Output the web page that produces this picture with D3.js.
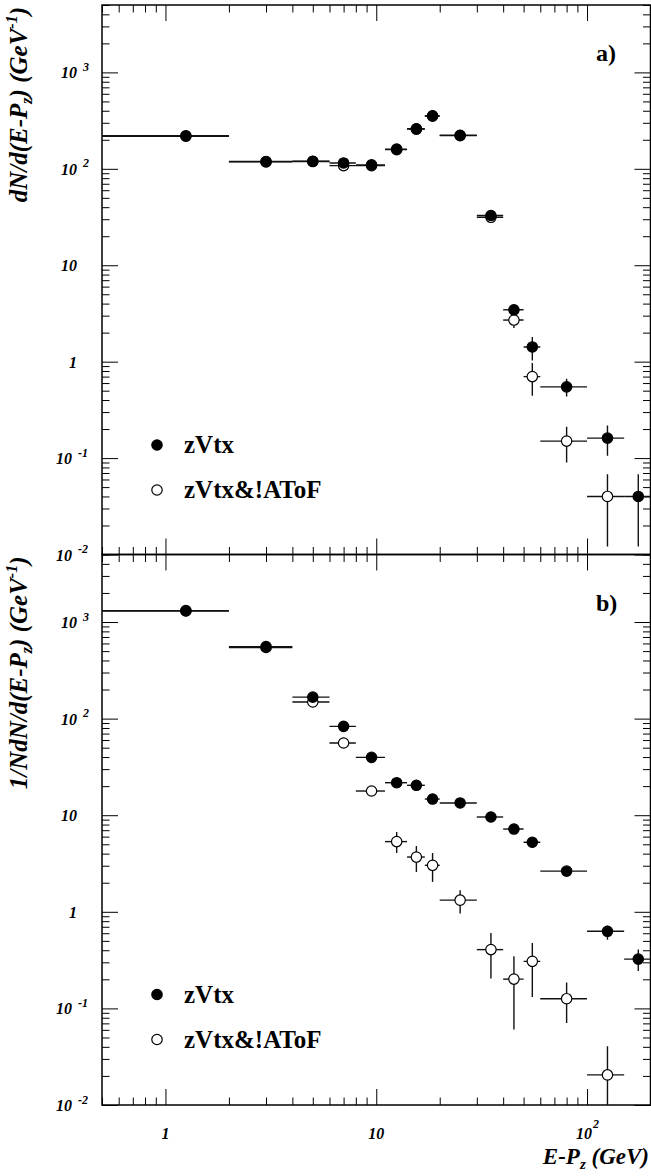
<!DOCTYPE html>
<html><head><meta charset="utf-8">
<script src="https://cdn.jsdelivr.net/npm/d3@7"></script>
<style>body{margin:0;background:#fff}svg{display:block}</style>
</head><body><svg id="c" width="651" height="1176"></svg>
<script>
// ---------------- DATA ----------------
const binLo     = [0.5, 2, 4, 6, 8, 11, 14, 17, 20, 30, 40, 50, 60, 100, 150];
const binHi     = [2, 4, 6, 8, 11, 14, 17, 20, 30, 40, 50, 60, 100, 150, 200];
const binCenter = [1.25, 3, 5, 7, 9.5, 12.5, 15.5, 18.5, 25, 35, 45, 55, 80, 125, 175];

// panel a) dN/d(E-Pz)
const aFilled   = [220, 119, 120, 115, 110, 160, 260, 355, 223, 32.8, 3.45, 1.42, 0.548, 0.161, 0.040];
const aFilledLo = [215, 116, 117, 112, 107, 155, 252, 345, 216, 31.4, 3.08, 1.03, 0.435, 0.106, 0.0121];
const aFilledHi = [225, 122, 123, 118, 113, 165, 268, 365, 230, 34.3, 3.79, 1.80, 0.664, 0.218, 0.068];
const aOpen     = [218, 118, 119, 108, 108, 158, 258, 352, 221, 31.4, 2.70, 0.70, 0.150, 0.040, null];
const aOpenLo   = [213, 115, 116, 105, 105, 153, 250, 342, 214, 30.0, 2.23, 0.442, 0.090, 0.0121, null];
const aOpenHi   = [223, 121, 122, 111, 111, 163, 266, 362, 228, 32.9, 3.06, 0.966, 0.211, 0.068, null];

// panel b) 1/N dN/d(E-Pz)
const bFilled   = [1312, 556, 167, 83.2, 39.7, 21.7, 20.4, 14.7, 13.4, 9.58, 7.19, 5.25, 2.64, 0.628, 0.324];
const bFilledLo = [1290, 545, 160, 80.0, 38.0, 20.5, 19.2, 13.4, 12.8, 9.20, 6.90, 5.00, 2.55, 0.515, 0.244];
const bFilledHi = [1335, 567, 174, 86.5, 41.4, 22.9, 21.6, 16.1, 14.0, 9.96, 7.48, 5.50, 2.73, 0.720, 0.406];
const bOpen     = [1300, 545, 148.6, 55.9, 17.8, 5.33, 3.69, 3.03, 1.32, 0.406, 0.201, 0.307, 0.126, 0.0205, null];
const bOpenLo   = [1280, 535, 143, 53.5, 16.6, 4.06, 2.58, 2.04, 0.958, 0.204, 0.0604, 0.131, 0.0706, 0.005, null];
const bOpenHi   = [1320, 555, 154, 58.3, 19.0, 6.70, 4.80, 4.06, 1.67, 0.604, 0.346, 0.475, 0.185, 0.0405, null];

const yTickValues = [1000, 100, 10, 1, 0.1, 0.01];
const yTickBase   = ["10", "10", "10", "1", "10", "10"];
const yTickExp    = ["3", "2", "", "", "-1", "-2"];
const xTickValues = [1, 10, 100];
const xTickBase   = ["1", "10", "10"];
const xTickExp    = ["", "", "2"];
const legendNames = ["zVtx", "zVtx&!AToF"];

// ---------------- LAYOUT ----------------
const svg = d3.select("#c");
const FONT = "'Liberation Serif','DejaVu Serif',serif";
const L = 102, R = 650.5;
const x = d3.scaleLog().domain([0.5, 200]).range([L, R]);

const panels = [
  {top: 5, bottom: 554.5, label: "a)", filled: aFilled, fLo: aFilledLo, fHi: aFilledHi,
   open: aOpen, oLo: aOpenLo, oHi: aOpenHi},
  {top: 554.5, bottom: 1105, label: "b)", filled: bFilled, fLo: bFilledLo, fHi: bFilledHi,
   open: bOpen, oLo: bOpenLo, oHi: bOpenHi}
];

function minorValues(domain) {
  const out = [];
  const lo = Math.floor(Math.log10(domain[0])), hi = Math.ceil(Math.log10(domain[1]));
  for (let e = lo; e <= hi; e++) for (let m = 2; m <= 9; m++) {
    const v = m * Math.pow(10, e);
    if (v >= domain[0] * 0.999 && v <= domain[1] * 1.001) out.push(v);
  }
  return out;
}
function majorValues(domain) {
  const out = [];
  const lo = Math.ceil(Math.log10(domain[0]) - 1e-9), hi = Math.floor(Math.log10(domain[1]) + 1e-9);
  for (let e = lo; e <= hi; e++) out.push(Math.pow(10, e));
  return out;
}

panels.forEach((p, pi) => {
  const y = d3.scaleLog().domain([0.01, 5000]).range([p.bottom, p.top]);
  const g = svg.append("g");
  const clipId = "clip" + pi;
  svg.append("clipPath").attr("id", clipId).append("rect")
    .attr("x", L).attr("y", p.top).attr("width", R - L).attr("height", p.bottom - p.top);

  const yMin = minorValues(y.domain()), yMaj = majorValues(y.domain());
  const xMin = minorValues(x.domain()), xMaj = majorValues(x.domain());
  const addAxis = (axis, tx, ty) => {
    const a = g.append("g").attr("transform", `translate(${tx},${ty})`).call(axis);
    a.select(".domain").remove();
    a.selectAll("line").attr("stroke", "#000").attr("stroke-width", 1);
  };
  addAxis(d3.axisLeft(y).tickValues(yMin).tickSize(-7.5).tickFormat(""), L, 0);
  addAxis(d3.axisLeft(y).tickValues(yMaj).tickSize(-16).tickFormat(""), L, 0);
  addAxis(d3.axisRight(y).tickValues(yMin).tickSize(-7.5).tickFormat(""), R, 0);
  addAxis(d3.axisRight(y).tickValues(yMaj).tickSize(-16).tickFormat(""), R, 0);
  addAxis(d3.axisTop(x).tickValues(xMin).tickSize(-7.5).tickFormat(""), 0, p.top);
  addAxis(d3.axisTop(x).tickValues(xMaj).tickSize(-16).tickFormat(""), 0, p.top);
  addAxis(d3.axisBottom(x).tickValues(xMin).tickSize(-7.5).tickFormat(""), 0, p.bottom);
  addAxis(d3.axisBottom(x).tickValues(xMaj).tickSize(-16).tickFormat(""), 0, p.bottom);

  g.append("rect").attr("x", L).attr("y", p.top).attr("width", R - L).attr("height", p.bottom - p.top)
    .attr("fill", "none").attr("stroke", "#000").attr("stroke-width", 1.5);

  // y tick labels
  yTickValues.forEach((v, i) => {
    const hasExp = yTickExp[i] !== "";
    const endX = hasExp && yTickExp[i].startsWith("-") ? 72 : 77;
    g.append("text").attr("x", endX).attr("y", y(v) + 6)
      .attr("text-anchor", "end").attr("font-family", FONT).attr("font-weight", "bold")
      .attr("font-style", "italic").attr("font-size", 16).text(yTickBase[i]);
    if (hasExp) {
      g.append("text").attr("x", endX + 6).attr("y", y(v) - 1.5)
        .attr("font-family", FONT).attr("font-weight", "bold").attr("font-style", "italic")
        .attr("font-size", 12).text(yTickExp[i]);
    }
  });

  // data: open first, then filled
  const dg = g.append("g").attr("clip-path", `url(#${clipId})`);
  const series = [
    {vals: p.open, lo: p.oLo, hi: p.oHi, fill: "#fff"},
    {vals: p.filled, lo: p.fLo, hi: p.fHi, fill: "#000"}
  ];
  series.forEach(s => {
    const idx = d3.range(binCenter.length).filter(i => s.vals[i] != null);
    dg.selectAll(null).data(idx).enter().append("line")
      .attr("x1", i => x(binLo[i])).attr("x2", i => x(binHi[i]))
      .attr("y1", i => y(s.vals[i])).attr("y2", i => y(s.vals[i]))
      .attr("stroke", "#111").attr("stroke-width", 1.4);
    dg.selectAll(null).data(idx).enter().append("line")
      .attr("x1", i => x(binCenter[i])).attr("x2", i => x(binCenter[i]))
      .attr("y1", i => y(s.lo[i])).attr("y2", i => y(s.hi[i]))
      .attr("stroke", "#111").attr("stroke-width", 1.4);
    dg.selectAll(null).data(idx).enter().append("circle")
      .attr("cx", i => x(binCenter[i])).attr("cy", i => y(s.vals[i])).attr("r", 5.2)
      .attr("fill", s.fill).attr("stroke", "#000").attr("stroke-width", 1.2);
  });

  // panel label
  g.append("text").attr("x", 596).attr("y", p.top + 56).attr("font-family", FONT)
    .attr("font-weight", "bold").attr("font-size", 24).text(p.label);

  // legend
  const legY = [p.top + 440, p.top + 485];
  legendNames.forEach((nm, i) => {
    g.append("circle").attr("cx", 157).attr("cy", legY[i]).attr("r", 5.2)
      .attr("fill", i === 0 ? "#000" : "#fff").attr("stroke", "#000").attr("stroke-width", 1.2);
    g.append("text").attr("x", 184).attr("y", legY[i] + 8).attr("font-family", FONT)
      .attr("font-weight", "bold").attr("font-size", 25).text(nm);
  });

  // y title
  const tt = g.append("text").attr("transform", `translate(27,${p.top + 2}) rotate(-90)`)
    .attr("text-anchor", "end").attr("font-family", FONT).attr("font-weight", "bold")
    .attr("font-style", "italic").attr("font-size", 25);
  tt.append("tspan").text(pi === 0 ? "dN/d(E-P" : "1/NdN/d(E-P");
  tt.append("tspan").attr("dy", 5).attr("font-size", 16).text("z");
  tt.append("tspan").attr("dy", -5).text(") (GeV");
  tt.append("tspan").attr("dy", -10).attr("font-size", 16).text("-1");
  tt.append("tspan").attr("dy", 10).text(")");
});

// x tick labels (bottom panel)
xTickValues.forEach((v, i) => {
  const hasExp = xTickExp[i] !== "";
  const cx = x(v) - (hasExp ? 3 : 0);
  svg.append("text").attr("x", cx).attr("y", 1139).attr("text-anchor", "middle")
    .attr("font-family", FONT).attr("font-weight", "bold").attr("font-style", "italic")
    .attr("font-size", 16).text(xTickBase[i]);
  if (hasExp) {
    svg.append("text").attr("x", cx + 9).attr("y", 1128).attr("font-family", FONT)
      .attr("font-weight", "bold").attr("font-style", "italic").attr("font-size", 12).text(xTickExp[i]);
  }
});

// x title
const xt = svg.append("text").attr("x", 649).attr("y", 1164).attr("text-anchor", "end")
  .attr("font-family", FONT).attr("font-weight", "bold").attr("font-style", "italic").attr("font-size", 23);
xt.append("tspan").text("E-P");
xt.append("tspan").attr("dy", 5).attr("font-size", 15).text("z");
xt.append("tspan").attr("dy", -5).text(" (GeV)");
</script>
</body></html>
